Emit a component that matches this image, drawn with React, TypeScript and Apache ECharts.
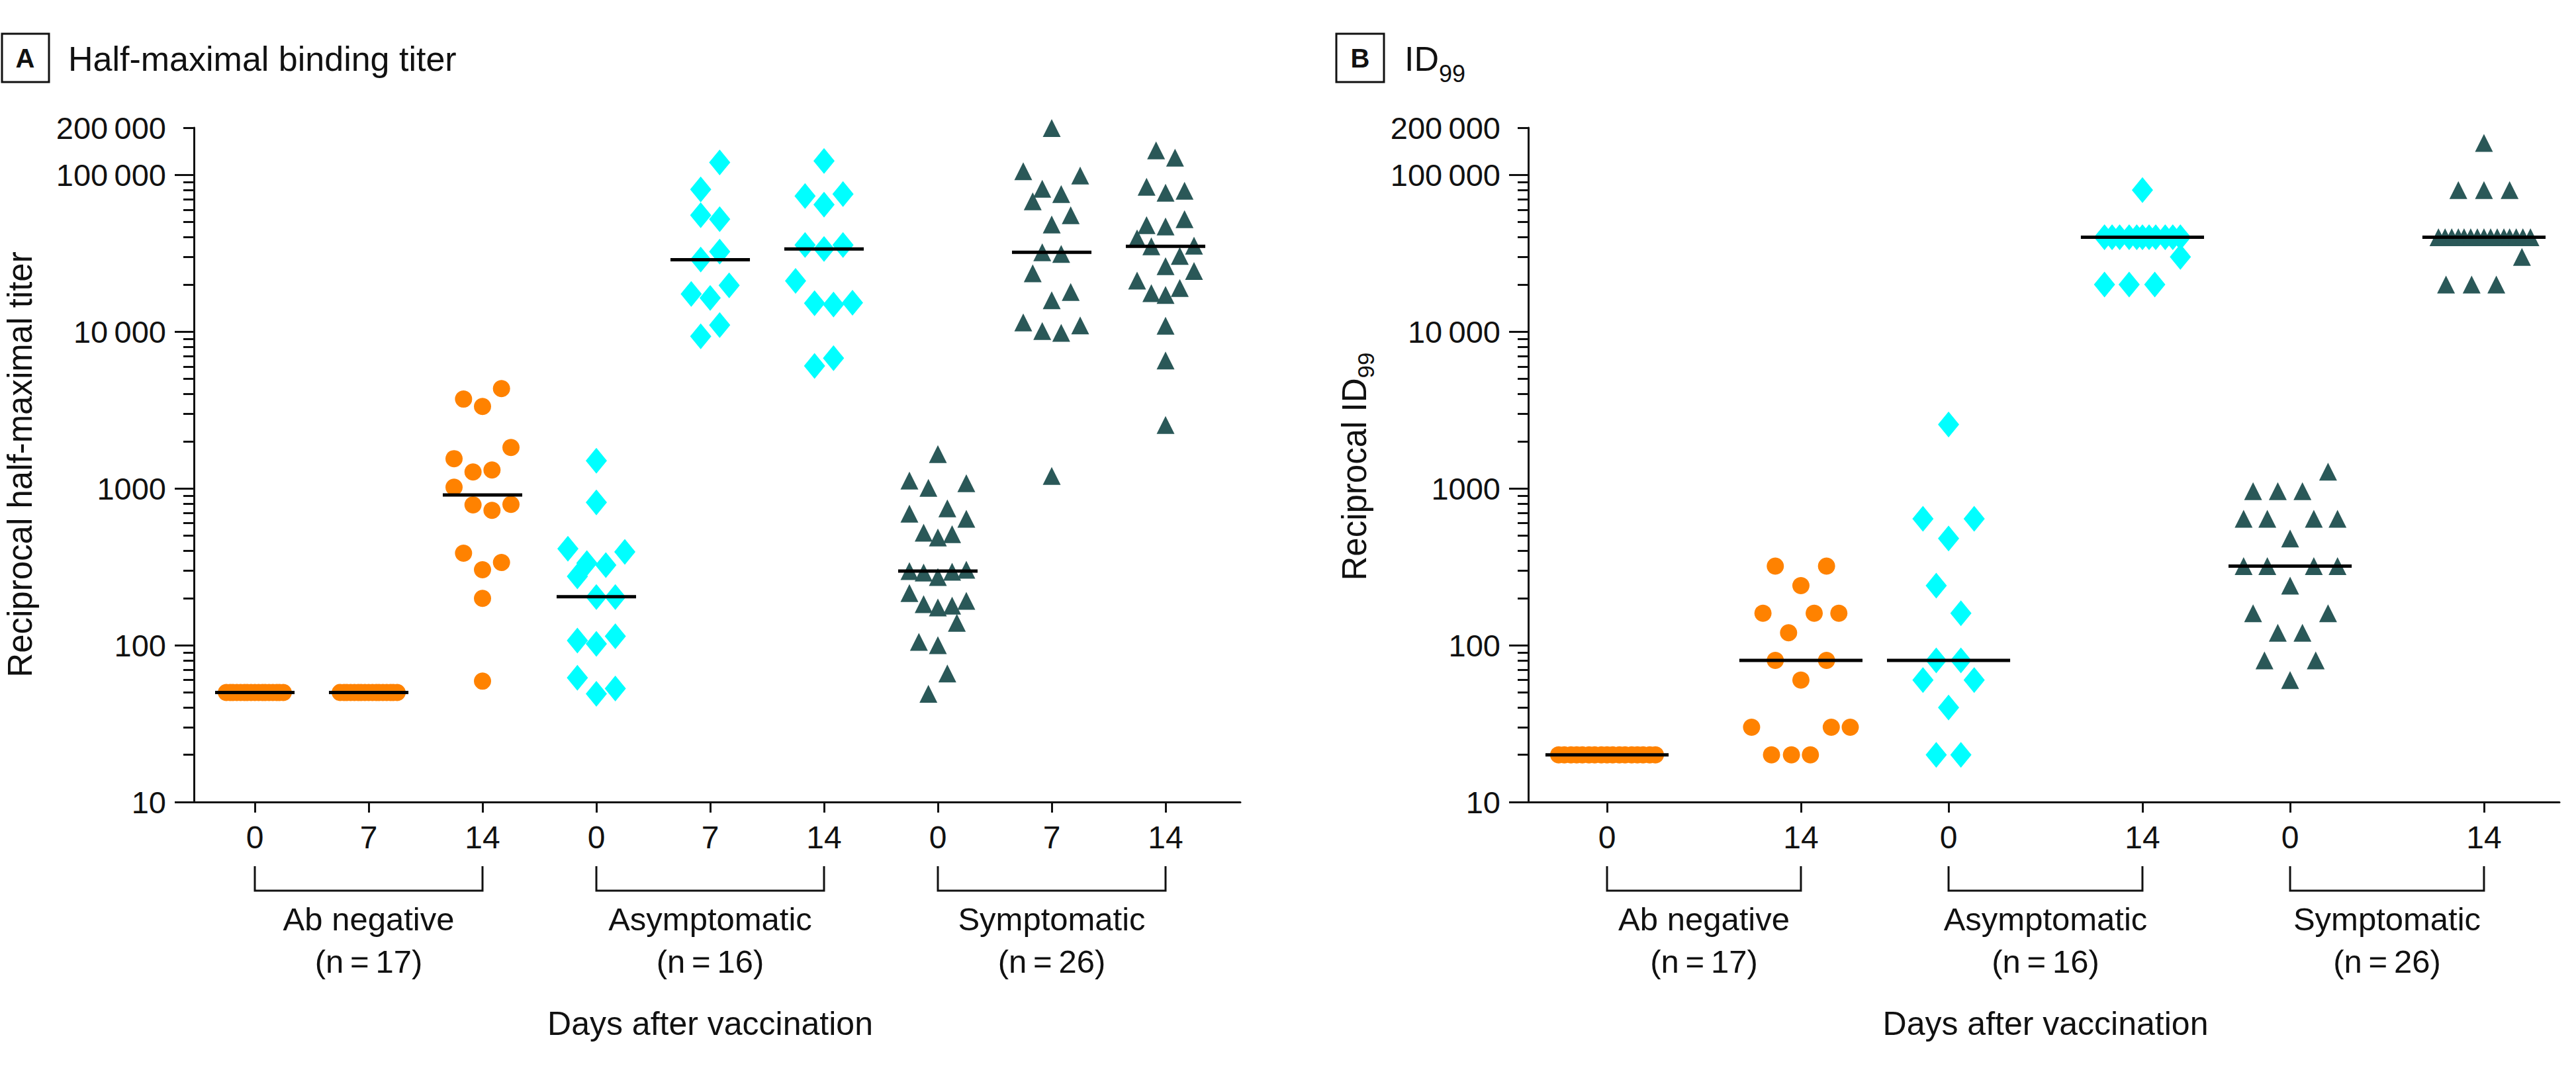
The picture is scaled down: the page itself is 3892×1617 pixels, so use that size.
import React, { useEffect, useRef } from 'react';
import * as echarts from 'echarts';

const W = 3892;
const H = 1617;
const FONT = '"Liberation Sans", Arial, sans-serif';
const BLACK = '#111111';
const ORANGE = '#FF8200';
const CYAN = '#00FFFF';
const TEAL = '#2A5858';

// ---------- axes ----------
const A_POS = [0, 1, 2, 3, 4, 5, 6, 7, 8];
const A_DAY_LABELS = ['0', '7', '14', '0', '7', '14', '0', '7', '14'];
const B_POS = [0, 1.703, 3, 4.703, 6, 7.703];
const B_DAY_LABELS = ['0', '14', '0', '14', '0', '14'];
const GROUPS = ['Ab negative', 'Asymptomatic', 'Symptomatic'];
const GROUP_N = ['(n\u2009=\u200917)', '(n\u2009=\u200916)', '(n\u2009=\u200926)'];
const X_TITLE = 'Days after vaccination';

const Y_LABEL_VALUES = [10, 100, 1000, 10000, 100000, 200000];
const Y_LABEL_TEXT = ['10', '100', '1000', '10\u2009000', '100\u2009000', '200\u2009000'];
const Y_MAJOR = [10, 100, 1000, 10000, 100000];
const Y_MINOR = [
  20, 30, 40, 50, 60, 70, 80, 90,
  200, 300, 400, 500, 600, 700, 800, 900,
  2000, 3000, 4000, 5000, 6000, 7000, 8000, 9000,
  20000, 30000, 40000, 50000, 60000, 70000, 80000, 90000,
  200000,
];

// ---------- panel A data (value, jitter slot) ----------
const aAbNeg0Val = [50, 50, 50, 50, 50, 50, 50, 50, 50, 50, 50, 50, 50, 50, 50, 50, 50];
const aAbNeg0Jit = [-3, -2.6, -2.3, -1.9, -1.5, -1.1, -0.8, -0.4, 0, 0.4, 0.8, 1.1, 1.5, 1.9, 2.3, 2.6, 3];
const aAbNeg7Val = [50, 50, 50, 50, 50, 50, 50, 50, 50, 50, 50, 50, 50, 50, 50, 50, 50];
const aAbNeg7Jit = [-3, -2.6, -2.3, -1.9, -1.5, -1.1, -0.8, -0.4, 0, 0.4, 0.8, 1.1, 1.5, 1.9, 2.3, 2.6, 3];
const aAbNeg14Val = [4335, 3715, 3336, 1827, 1549, 1312, 1275, 1019, 792, 785, 725, 386, 337, 303, 199, 59];
const aAbNeg14Jit = [2, -2, 0, 3, -3, 1, -1, -3, 3, -1, 1, -2, 2, 0, 0, 0];

const aAsym0Val = [1503, 815, 413, 394, 334, 324, 275, 203, 203, 114, 107, 102, 62, 53, 49];
const aAsym0Jit = [0, 0, -3, 3, -1, 1, -2, 0, 2, 2, -2, 0, -2, 2, 0];
const aAsym7Val = [120200, 80800, 55300, 52200, 32400, 28840, 19730, 17400, 16400, 11020, 9340];
const aAsym7Jit = [1, -1, -1, 1, 1, -1, 2, -2, 0, 1, -1];
const aAsym14Val = [122700, 75400, 73300, 64600, 35700, 33700, 35700, 21100, 15200, 14900, 15300, 6040, 6780];
const aAsym14Jit = [0, 2, -2, 0, -2, 0, 2, -3, -1, 1, 3, -1, 1];

const aSymp0Val = [1656, 1124, 1009, 1081, 691, 747, 640, 522, 487, 511, 297, 291, 272, 294, 303, 215, 183, 174, 179, 192, 139, 105, 100, 66, 49];
const aSymp0Jit = [0, -3, -1, 3, -3, 1, 3, -1.5, 0, 1.5, -3, -1.5, 0, 1.5, 3, -3, -1.5, 0, 1.5, 3, 2, -2, 0, 1, -1];
const aSymp7Val = [199000, 105500, 99000, 81500, 75400, 67800, 55300, 48300, 32100, 31300, 23600, 17900, 15850, 11460, 10100, 9840, 10970, 1202];
const aSymp7Jit = [0, -3, 3, -1, 1, -2, 2, 0, -1, 1, -2, 2, 0, -3, -1, 1, 3, 0];
const aSymp14Val = [143200, 128800, 84000, 76900, 79200, 47800, 46900, 52200, 39400, 35000, 35400, 30400, 26200, 24400, 21200, 17600, 17150, 19000, 10900, 6550, 2540];
const aSymp14Jit = [-1, 1, -2, 0, 2, -2, 0, 2, -3, -1.5, 3, 1.5, 0, 3, -3, -1.5, 0, 1.5, 0, 0, 0];

const aMedians = [50, 50, 908, 204, 28800, 33700, 297, 32100, 35000];

// ---------- panel B data ----------
const bAbNeg0Val = [20, 20, 20, 20, 20, 20, 20, 20, 20, 20, 20, 20, 20, 20, 20, 20, 20];
const bAbNeg0Jit = [-5.1, -4.5, -3.8, -3.2, -2.6, -1.9, -1.3, -0.6, 0, 0.6, 1.3, 1.9, 2.6, 3.2, 3.8, 4.5, 5.1];
const bAbNeg14Val = [320, 320, 240, 160, 160, 160, 120, 80, 80, 60, 30, 30, 30, 20, 20, 20];
const bAbNeg14Jit = [-2.7, 2.7, 0, -4, 1.4, 4, -1.3, -2.7, 2.7, 0, -5.2, 3.2, 5.2, -3.1, -1, 1];
const bAsym0Val = [2560, 640, 640, 480, 240, 160, 80, 80, 60, 60, 40, 20, 20];
const bAsym0Jit = [0, -2.7, 2.7, 0, -1.3, 1.3, -1.3, 1.3, -2.7, 2.7, 0, -1.3, 1.3];
const bAsym14Val = [80000, 40000, 40000, 40000, 40000, 40000, 40000, 40000, 40000, 40000, 40000, 40000, 30000, 20000, 20000, 20000];
const bAsym14Jit = [0, -4, -3.2, -2.4, -1.4, -0.6, 0, 0.7, 1.4, 2.4, 3.2, 4, 4, -4, -1.4, 1.3];
const bSymp0Val = [1280, 960, 960, 960, 640, 640, 640, 640, 480, 320, 320, 320, 320, 240, 160, 160, 120, 120, 80, 80, 60];
const bSymp0Jit = [4, -3.9, -1.3, 1.3, -4.9, -2.4, 2.5, 5, 0, -4.9, -2.4, 2.5, 5, 0, -3.9, 4, -1.3, 1.3, -2.7, 2.7, 0];
const bSymp14Val = [160000, 80000, 80000, 80000, 40000, 40000, 40000, 40000, 40000, 40000, 40000, 40000, 40000, 40000, 40000, 40000, 40000, 40000, 40000, 30000, 20000, 20000, 20000];
const bSymp14Jit = [0, -2.7, 0, 2.7, -4.8, -4.1, -3.4, -2.7, -2.1, -1.4, -0.7, 0, 0.7, 1.4, 2.1, 2.7, 3.4, 4.1, 4.9, 4, -4, -1.3, 1.3];

const bMedians = [20, 80, 80, 40000, 320, 40000];

// ---------- layout ----------
const SLOT = 1 / 12; // jitter slot in x-axis units
const GRID_A = { left: 293, top: 193, width: 1581, height: 1019 };
const GRID_B = { left: 2309, top: 193, width: 1558, height: 1019 };
const A_XMIN = -0.535, A_XMAX = 8.657;
const B_XMIN = -0.692, B_XMAX = 8.366;
const A_MED_HW = 0.349;
const B_MED_HW = 0.541;

const SYM_CIRCLE = { symbol: 'circle', size: 26, color: ORANGE };
const SYM_DIAMOND = { symbol: 'diamond', size: [32, 39], color: CYAN };
const SYM_TRI = { symbol: 'triangle', size: [27, 27], color: TEAL };

function measure(text: string, font: string) {
  const c = document.createElement('canvas').getContext('2d');
  if (!c) return text.length * 20;
  c.font = font;
  return c.measureText(text).width;
}

function scatter(g: number, pos: number, vals: number[], jit: number[], sym: any) {
  return {
    type: 'scatter',
    xAxisIndex: g,
    yAxisIndex: g * 2,
    symbol: sym.symbol,
    symbolSize: sym.size,
    itemStyle: { color: sym.color, opacity: 1 },
    silent: true,
    z: 2,
    data: vals.map((v, i) => [pos + jit[i] * SLOT, v]),
  };
}

function medianSeries(g: number, pos: number[], meds: number[], hw: number) {
  return {
    type: 'custom',
    xAxisIndex: g,
    yAxisIndex: g * 2,
    silent: true,
    z: 5,
    data: meds.map((m, i) => [pos[i], m]),
    renderItem: (_p: any, api: any) => {
      const x = api.value(0);
      const y = api.value(1);
      const p1 = api.coord([x - hw, y]);
      const p2 = api.coord([x + hw, y]);
      return {
        type: 'line',
        shape: { x1: p1[0], y1: p1[1], x2: p2[0], y2: p2[1] },
        style: { stroke: '#000', lineWidth: 5 },
      };
    },
  };
}

function bracketSeries(g: number, pos: number[]) {
  const perGroup = pos.length / 3;
  const data = [0, 1, 2].map((k) => [pos[k * perGroup], 10, pos[k * perGroup + perGroup - 1], k]);
  return {
    type: 'custom',
    xAxisIndex: g,
    yAxisIndex: g * 2,
    silent: true,
    clip: false,
    z: 5,
    data,
    renderItem: (_p: any, api: any) => {
      const s = api.coord([api.value(0), 10]);
      const e = api.coord([api.value(2), 10]);
      const k = api.value(3);
      const y0 = s[1];
      const cx = (s[0] + e[0]) / 2;
      const children: any[] = [
        {
          type: 'polyline',
          shape: { points: [[s[0], y0 + 97], [s[0], y0 + 134], [e[0], y0 + 134], [e[0], y0 + 97]] },
          style: { stroke: BLACK, lineWidth: 3, fill: null },
        },
        {
          type: 'text', x: cx, y: y0 + 177,
          style: { text: GROUPS[k], fontSize: 49, fontFamily: FONT, fill: BLACK, align: 'center', verticalAlign: 'middle' },
        },
        {
          type: 'text', x: cx, y: y0 + 241,
          style: { text: GROUP_N[k], fontSize: 49, fontFamily: FONT, fill: BLACK, align: 'center', verticalAlign: 'middle' },
        },
      ];
      if (k === 1) {
        children.push({
          type: 'text', x: cx, y: y0 + 335,
          style: { text: X_TITLE, fontSize: 50, fontFamily: FONT, fill: BLACK, align: 'center', verticalAlign: 'middle' },
        });
      }
      return { type: 'group', children };
    },
  };
}

function yFormatter(v: number) {
  const i = Y_LABEL_VALUES.findIndex((t) => Math.abs(Math.log10(t) - Math.log10(v)) < 1e-4);
  return i >= 0 ? Y_LABEL_TEXT[i] : '';
}

function xFormatter(pos: number[], labels: string[]) {
  return (v: number) => {
    const i = pos.findIndex((p) => Math.abs(p - v) < 1e-3);
    return i >= 0 ? labels[i] : '';
  };
}

const LINE = { color: BLACK, width: 3 };

function yAxes(g: number) {
  return [
    {
      type: 'log', logBase: 10, gridIndex: g, min: 10, max: 200000, position: 'left',
      axisLine: { show: true, onZero: false, lineStyle: LINE },
      axisTick: { show: true, length: 29, customValues: Y_MAJOR, lineStyle: LINE },
      axisLabel: { show: true, margin: 42, customValues: Y_LABEL_VALUES, formatter: yFormatter, fontSize: 47, fontFamily: FONT, color: BLACK },
      splitLine: { show: false },
    },
    {
      type: 'log', logBase: 10, gridIndex: g, min: 10, max: 200000, position: 'left',
      axisLine: { show: false, onZero: false },
      axisTick: { show: true, length: 16, customValues: Y_MINOR, lineStyle: LINE },
      axisLabel: { show: false },
      splitLine: { show: false },
    },
  ];
}

function xAxis(g: number, min: number, max: number, pos: number[], labels: string[]) {
  return {
    type: 'value', gridIndex: g, min, max, position: 'bottom',
    axisLine: { show: true, onZero: false, lineStyle: LINE },
    axisTick: { show: true, length: 16, customValues: pos, lineStyle: LINE },
    axisLabel: { show: true, margin: 29, customValues: pos, formatter: xFormatter(pos, labels), fontSize: 48, fontFamily: FONT, color: BLACK },
    splitLine: { show: false },
  };
}

function buildOption() {
  const titleFont = `52px ${FONT}`;
  const idW = measure('ID', titleFont);
  const yLabelFont = `51px ${FONT}`;
  const recW = measure('Reciprocal ID', yLabelFont);
  const subW = measure('99', `35px ${FONT}`);
  const totalW = recW + subW;

  const series: any[] = [
    scatter(0, A_POS[0], aAbNeg0Val, aAbNeg0Jit, SYM_CIRCLE),
    scatter(0, A_POS[1], aAbNeg7Val, aAbNeg7Jit, SYM_CIRCLE),
    scatter(0, A_POS[2], aAbNeg14Val, aAbNeg14Jit, SYM_CIRCLE),
    scatter(0, A_POS[3], aAsym0Val, aAsym0Jit, SYM_DIAMOND),
    scatter(0, A_POS[4], aAsym7Val, aAsym7Jit, SYM_DIAMOND),
    scatter(0, A_POS[5], aAsym14Val, aAsym14Jit, SYM_DIAMOND),
    scatter(0, A_POS[6], aSymp0Val, aSymp0Jit, SYM_TRI),
    scatter(0, A_POS[7], aSymp7Val, aSymp7Jit, SYM_TRI),
    scatter(0, A_POS[8], aSymp14Val, aSymp14Jit, SYM_TRI),
    scatter(1, B_POS[0], bAbNeg0Val, bAbNeg0Jit, SYM_CIRCLE),
    scatter(1, B_POS[1], bAbNeg14Val, bAbNeg14Jit, SYM_CIRCLE),
    scatter(1, B_POS[2], bAsym0Val, bAsym0Jit, SYM_DIAMOND),
    scatter(1, B_POS[3], bAsym14Val, bAsym14Jit, SYM_DIAMOND),
    scatter(1, B_POS[4], bSymp0Val, bSymp0Jit, SYM_TRI),
    scatter(1, B_POS[5], bSymp14Val, bSymp14Jit, SYM_TRI),
    medianSeries(0, A_POS, aMedians, A_MED_HW),
    medianSeries(1, B_POS, bMedians, B_MED_HW),
    bracketSeries(0, A_POS),
    bracketSeries(1, B_POS),
  ];

  return {
    animation: false,
    backgroundColor: '#ffffff',
    textStyle: { fontFamily: FONT },
    grid: [
      { ...GRID_A, containLabel: false },
      { ...GRID_B, containLabel: false },
    ],
    xAxis: [
      xAxis(0, A_XMIN, A_XMAX, A_POS, A_DAY_LABELS),
      xAxis(1, B_XMIN, B_XMAX, B_POS, B_DAY_LABELS),
    ],
    yAxis: [...yAxes(0), ...yAxes(1)],
    series,
    graphic: [
      { type: 'rect', shape: { x: 3, y: 51, width: 71, height: 73 }, style: { fill: 'none', stroke: BLACK, lineWidth: 3 } },
      { type: 'text', x: 38, y: 88, style: { text: 'A', fontSize: 40, fontWeight: 'bold', fontFamily: FONT, fill: BLACK, align: 'center', verticalAlign: 'middle' } },
      { type: 'text', x: 103, y: 89, style: { text: 'Half-maximal binding titer', fontSize: 52, fontFamily: FONT, fill: BLACK, align: 'left', verticalAlign: 'middle' } },
      { type: 'rect', shape: { x: 2019, y: 51, width: 72, height: 73 }, style: { fill: 'none', stroke: BLACK, lineWidth: 3 } },
      { type: 'text', x: 2055, y: 88, style: { text: 'B', fontSize: 40, fontWeight: 'bold', fontFamily: FONT, fill: BLACK, align: 'center', verticalAlign: 'middle' } },
      { type: 'text', x: 2122, y: 89, style: { text: 'ID', fontSize: 52, fontFamily: FONT, fill: BLACK, align: 'left', verticalAlign: 'middle' } },
      { type: 'text', x: 2122 + idW, y: 111, style: { text: '99', fontSize: 36, fontFamily: FONT, fill: BLACK, align: 'left', verticalAlign: 'middle' } },
      {
        type: 'text', x: 30, y: 702, rotation: Math.PI / 2,
        style: { text: 'Reciprocal half-maximal titer', fontSize: 51, fontFamily: FONT, fill: BLACK, align: 'center', verticalAlign: 'middle' },
      },
      {
        type: 'group', x: 2046, y: 705, rotation: Math.PI / 2,
        children: [
          { type: 'text', x: -totalW / 2, y: 0, style: { text: 'Reciprocal ID', fontSize: 51, fontFamily: FONT, fill: BLACK, align: 'left', verticalAlign: 'middle' } },
          { type: 'text', x: -totalW / 2 + recW, y: 17, style: { text: '99', fontSize: 35, fontFamily: FONT, fill: BLACK, align: 'left', verticalAlign: 'middle' } },
        ],
      },
    ],
  };
}

export default function App() {
  const ref = useRef<HTMLDivElement>(null);
  useEffect(() => {
    if (!ref.current) return;
    const chart = echarts.init(ref.current, null, { renderer: 'svg', width: W, height: H });
    chart.setOption(buildOption() as any);
    return () => chart.dispose();
  }, []);
  return (
    <div
      ref={ref}
      style={{ position: 'fixed', left: 0, top: 0, width: W, height: H, background: '#ffffff' }}
    />
  );
}
